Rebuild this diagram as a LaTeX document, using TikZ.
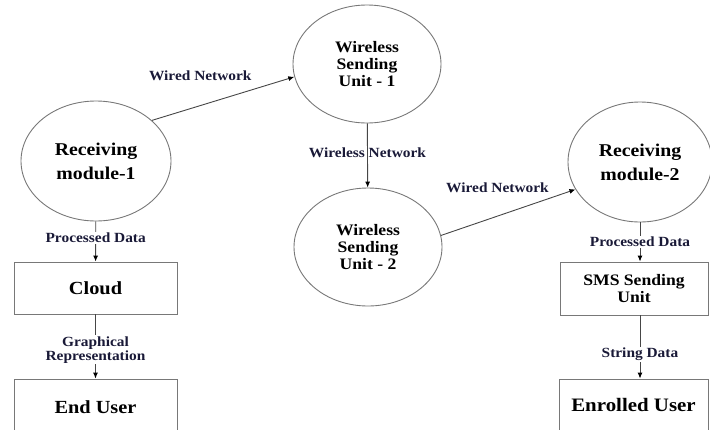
\documentclass[tikz,border=0pt]{standalone}
\usepackage{fontspec}
\setmainfont{Liberation Serif}[FakeStretch=1.1]
\usetikzlibrary{shapes.geometric,arrows.meta}

\definecolor{linegray}{RGB}{70,70,70}
\definecolor{edgegray}{RGB}{120,120,120}
\definecolor{labelnavy}{RGB}{25,25,55}

\begin{document}
\begin{tikzpicture}[x=1pt,y=-1pt,
    unitnode/.style={ellipse,draw=edgegray,line width=0.9pt,inner sep=0pt,
        minimum width=148pt,minimum height=118pt,align=center,
        font=\bfseries\fontsize{16}{17}\selectfont},
    modnode/.style={unitnode,font=\bfseries\fontsize{18}{24}\selectfont},
    boxnode/.style={rectangle,draw=edgegray,line width=0.9pt,inner sep=0pt,
        minimum width=163pt,minimum height=52pt,align=center,
        font=\bfseries\fontsize{18.5}{20}\selectfont},
    link/.style={draw=linegray,line width=0.9pt,-{Latex[length=6pt,width=5pt,black]}},
    lbl/.style={inner sep=1pt,text=labelnavy,align=center,
        font=\bfseries\fontsize{14}{14}\selectfont}]
    \useasboundingbox (0,0) rectangle (710,429);
    \clip (0,0) rectangle (710,429);

    % Receivers and wireless units
    \node[modnode,minimum width=150pt,minimum height=120pt] (rm1) at (96,161) {Receiving\\module-1};
    \node[unitnode] (wsu1) at (367,64) {Wireless\\Sending\\Unit - 1};
    \node[unitnode] (wsu2) at (368,247) {Wireless\\Sending\\Unit - 2};
    \node[modnode,minimum width=144pt,minimum height=120pt] (rm2) at (640,162) {Receiving\\module-2};

    % Output boxes
    \node[boxnode] (cloud) at (95.5,288) {Cloud};
    \node[boxnode,minimum height=56pt] (enduser) at (95.5,407) {End User};
    \node[boxnode,minimum width=148pt,minimum height=53pt,font=\bfseries\fontsize{16}{17}\selectfont] (sms) at (634,288.5) {SMS Sending\\Unit};
    \node[boxnode,minimum width=149pt,font=\bfseries\fontsize{19}{20}\selectfont] (enrolled) at (633.5,405) {Enrolled User};

    % Network links
    \draw[link] (rm1.36) -- (wsu1.190) node[lbl,pos=0.34,above=23pt] {Wired Network};
    \draw[link] (wsu1) -- (wsu2) node[lbl,pos=0.45] {Wireless Network};
    \draw[link] (wsu2.9) -- (rm2.203) node[lbl,pos=0.42,above=22pt] {Wired Network};

    % Data flow down each side
    \draw[link] (rm1) -- (cloud) node[lbl,fill=white,pos=0.41] {Processed Data};
    \draw[link] (cloud) -- (enduser) node[lbl,fill=white,pos=0.55] {Graphical\\Representation};
    \draw[link] (rm2.south) -- (rm2.south |- sms.north) node[lbl,fill=white,pos=0.5] {Processed Data};
    \draw[link] (rm2.south |- sms.south) -- (rm2.south |- enrolled.north) node[lbl,fill=white,pos=0.62] {String Data};
\end{tikzpicture}
\end{document}
